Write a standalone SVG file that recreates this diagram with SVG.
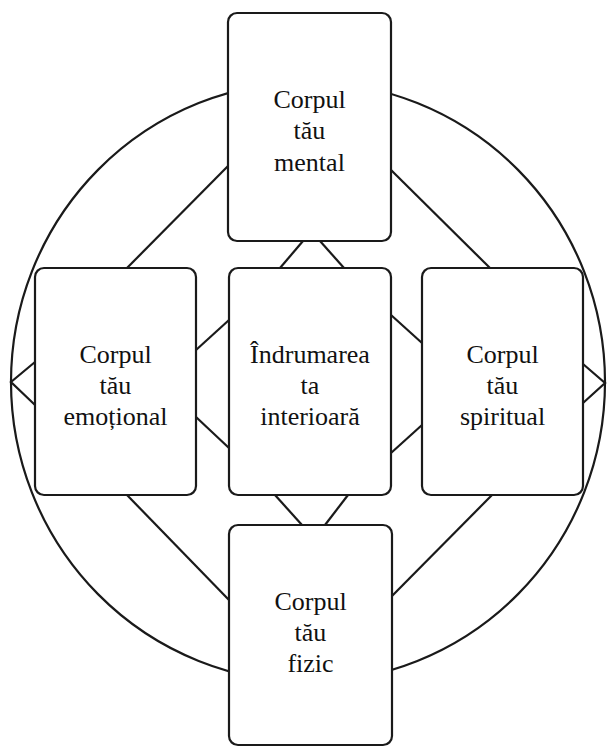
<svg xmlns="http://www.w3.org/2000/svg" width="607" height="749" viewBox="0 0 607 749">
<style>
.box{fill:#fff;stroke:#1a1a1a;stroke-width:2.2}
.ln{fill:none;stroke:#1a1a1a;stroke-width:2.2;stroke-linejoin:miter}
text{font-family:"Liberation Serif","Times New Roman",serif;font-size:26px;fill:#111;text-anchor:middle}
</style>
<rect width="607" height="749" fill="#fff"/>
<g id="connectors">
<ellipse class="ln" cx="308" cy="382" rx="297" ry="300"/>
<polyline class="ln" points="35,362 11,382 35,405"/>
<polyline class="ln" points="583,364 605,383 583,403"/>
<line class="ln" x1="228" y1="166" x2="127" y2="268"/>
<line class="ln" x1="391" y1="170" x2="490" y2="268"/>
<line class="ln" x1="127" y1="495" x2="229" y2="600"/>
<line class="ln" x1="492" y1="495" x2="392" y2="596"/>
<line class="ln" x1="303" y1="241" x2="280" y2="268"/>
<line class="ln" x1="320" y1="241" x2="344" y2="268"/>
<line class="ln" x1="275" y1="495" x2="302" y2="525"/>
<line class="ln" x1="348" y1="495" x2="325" y2="525"/>
<line class="ln" x1="196" y1="350" x2="229" y2="320"/>
<line class="ln" x1="196" y1="417" x2="229" y2="448"/>
<line class="ln" x1="391" y1="315" x2="422" y2="343"/>
<line class="ln" x1="422" y1="425" x2="391" y2="453"/>
</g>
<g id="node-mental">
<rect class="box" x="228" y="13" width="163" height="228" rx="9"/>
<text x="309.5" y="108">Corpul</text>
<text x="309.5" y="139">tău</text>
<text x="309.5" y="171">mental</text>
</g>
<g id="node-emotional">
<rect class="box" x="35" y="268" width="161" height="227" rx="9"/>
<text x="115.5" y="363">Corpul</text>
<text x="115.5" y="394">tău</text>
<text x="115.5" y="425">emoțional</text>
</g>
<g id="node-center">
<rect class="box" x="229" y="268" width="162" height="227" rx="9"/>
<text x="310" y="363">Îndrumarea</text>
<text x="310" y="394">ta</text>
<text x="310" y="425">interioară</text>
</g>
<g id="node-spiritual">
<rect class="box" x="422" y="268" width="161" height="227" rx="9"/>
<text x="502.5" y="363">Corpul</text>
<text x="502.5" y="394">tău</text>
<text x="502.5" y="425">spiritual</text>
</g>
<g id="node-fizic">
<rect class="box" x="229" y="525" width="163" height="220" rx="9"/>
<text x="310.5" y="610">Corpul</text>
<text x="310.5" y="641">tău</text>
<text x="310.5" y="672">fizic</text>
</g>
</svg>
